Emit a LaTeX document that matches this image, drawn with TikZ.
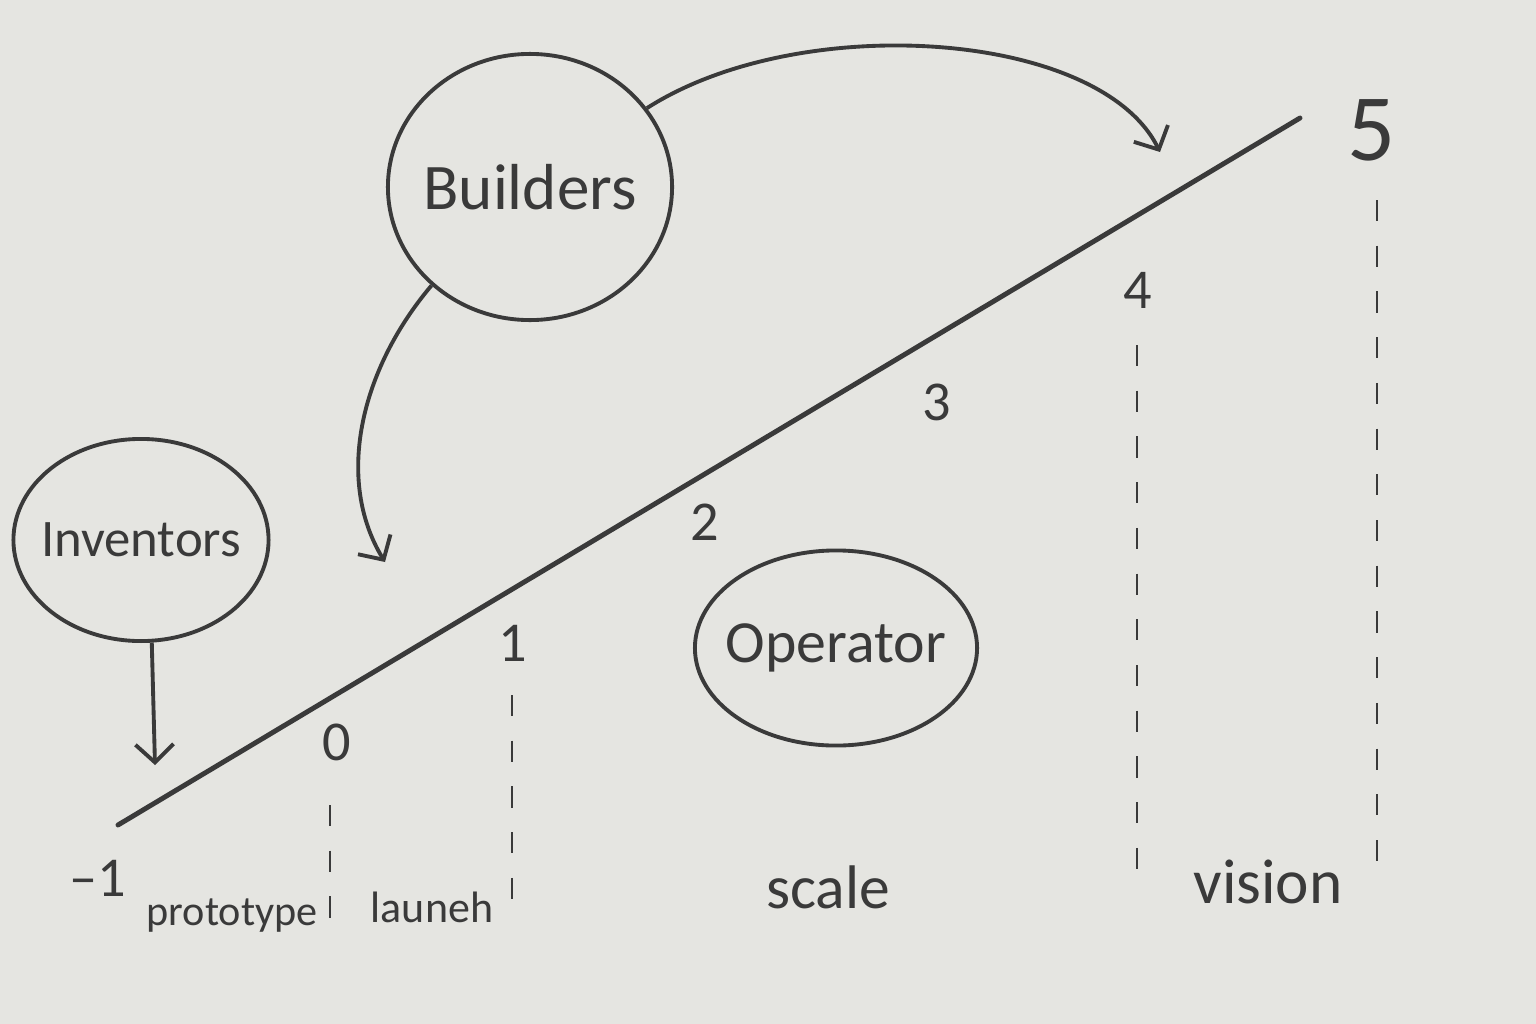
\documentclass[tikz,border=0pt]{standalone}
\usepackage{fontspec}
\setmainfont{Carlito}
\usetikzlibrary{arrows.meta,shapes.geometric}
\definecolor{paper}{HTML}{E5E5E1}
\definecolor{pencil}{HTML}{3A3A3A}

\begin{document}
\begin{tikzpicture}[x=0.01cm,y=-0.01cm,
  grp/.style={draw=pencil,ellipse,line width=1.1pt,inner sep=0pt,text=pencil,font=\fontsize{17}{20}\selectfont},
  num/.style={text=pencil,inner sep=0pt,font=\fontsize{16}{19}\selectfont},
  phase/.style={text=pencil,anchor=base,inner sep=0pt},
  tick/.style={pencil,line width=0.8pt,dash pattern=on 6pt off 7pt},
  sk/.style={pencil,line width=1.1pt,-{Straight Barb[length=1.8mm,width=3.8mm]}}]
\path[use as bounding box,fill=paper] (0,0) rectangle (1536,1024);
% ---------- scale line ----------
\coordinate (lo) at (118,825);
\coordinate (hi) at (1300,118);
\draw[pencil,line width=1.4pt,line cap=round] (lo) -- (hi);
\foreach \n/\t/\x/\y in {m1/--1/98/878,n0/0/337/742,n1/1/513/643,n2/2/705/522,n3/3/937/402,n4/4/1138/290}{
  \node[num] (\n) at (\x,\y) {\t};
}
\node[num,font=\fontsize{27}{30}\selectfont] (n5) at (1372,130) {5};
\foreach \x/\a/\b in {330/805/930,512/695/915,1137/345/890,1377/200/878}{
  \draw[tick] (\x,\a) -- (\x,\b);
}
% ---------- phases ----------
\node[phase,font=\fontsize{12}{14}\selectfont] (proto) at (232,925) {prototype};
\node[phase,font=\fontsize{12.5}{14}\selectfont] (launch) at (432,922) {launeh};
\node[phase,font=\fontsize{17.5}{20}\selectfont] (scale) at (828,908) {scale};
\node[phase,font=\fontsize{18}{20}\selectfont] (vision) at (1268,903) {vision};
% ---------- groups ----------
\node[grp,minimum width=2.84cm,minimum height=2.66cm,font=\fontsize{18.5}{21}\selectfont] (bld) at (530,187) {\makebox[0pt]{Builders}};
\node[grp,minimum width=2.55cm,minimum height=2.02cm,font=\fontsize{15}{18}\selectfont] (inv) at (141,540) {\makebox[0pt]{Inventors}};
\node[grp,minimum width=2.82cm,minimum height=1.95cm] (opr) at (836,648) {\makebox[0pt]{Operator}};
\coordinate (invtip) at (155,765);
\coordinate (bldtip1) at (385,562);
\coordinate (bldtip2) at (1160,152);
\draw[sk] (inv.-84) -- (invtip);
\draw[sk] (bld.-135) .. controls (360,370) and (335,480) .. (bldtip1);
\draw[sk] (bld.34) .. controls (800,10) and (1100,30) .. (bldtip2);
\end{tikzpicture}
\end{document}
